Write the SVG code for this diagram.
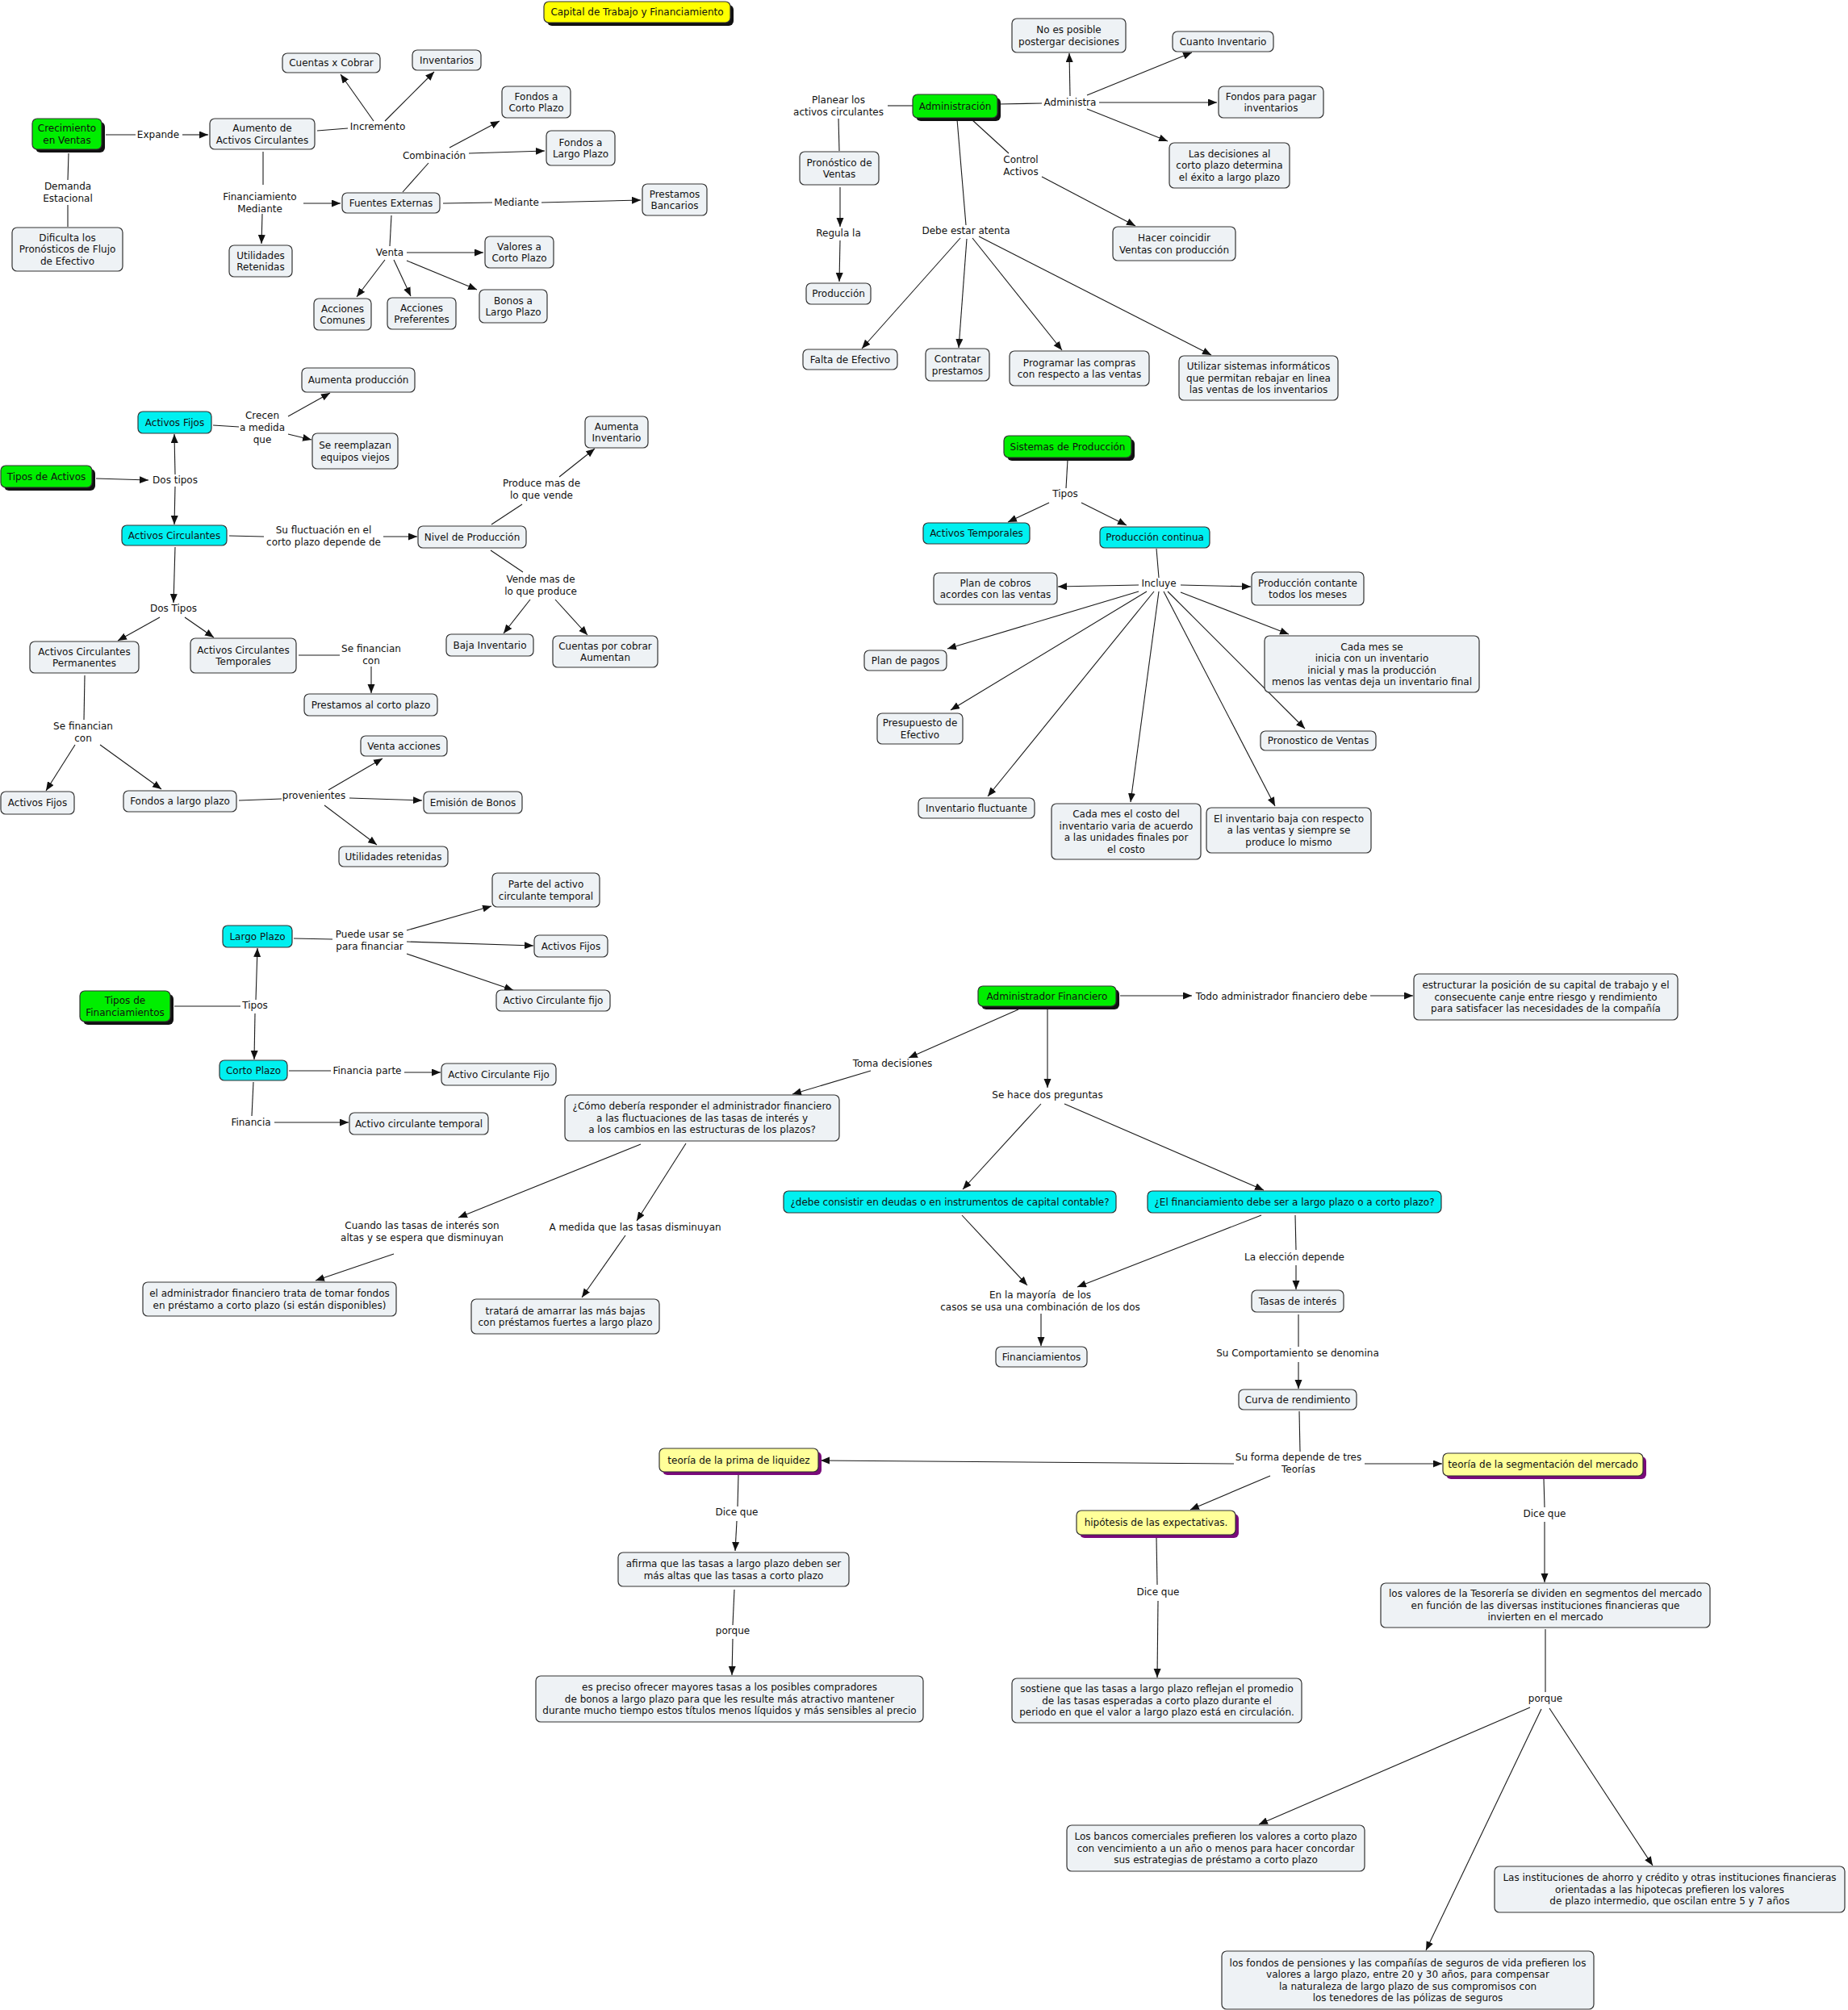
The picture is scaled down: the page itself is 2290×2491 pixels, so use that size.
<svg xmlns="http://www.w3.org/2000/svg" width="2290" height="2491" viewBox="0 0 2290 2491">
<defs>
<marker id="ah" markerWidth="12" markerHeight="10" refX="11" refY="4.5" orient="auto" markerUnits="userSpaceOnUse"><path d="M0,0 L11,4.5 L0,9 z" fill="#111"/></marker>
<style>
text{font-family:"DejaVu Sans",Verdana,sans-serif;font-size:12px;fill:#111;text-anchor:middle}
.n{fill:#eef2f5;stroke:#333;stroke-width:1.2}
.g{fill:#00ee00;stroke:#333;stroke-width:1.2}
.c{fill:#00f0f0;stroke:#333;stroke-width:1.2}
.y{fill:#ffff00;stroke:#333;stroke-width:1.2}
.t{fill:#ffff99;stroke:#333;stroke-width:1.2}
.sk{fill:#111}
.sp{fill:#7a0a7a}
#connectors line{stroke:#1a1a1a;stroke-width:1.1;fill:none}
#connectors line.a{marker-end:url(#ah)}
</style>
</defs>
<rect width="2290" height="2491" fill="#fff"/>

<g id="connectors">
<line x1="131" y1="167" x2="168" y2="167"/>
<line class="a" x1="226" y1="167" x2="258" y2="167"/>
<line x1="393" y1="162" x2="431" y2="159"/>
<line class="a" x1="463" y1="150" x2="422" y2="92"/>
<line class="a" x1="477" y1="150" x2="538" y2="89"/>
<line x1="326" y1="188" x2="326" y2="229"/>
<line class="a" x1="376" y1="252" x2="422" y2="252"/>
<line class="a" x1="325" y1="265" x2="324" y2="302"/>
<line x1="499" y1="238" x2="531" y2="202"/>
<line class="a" x1="557" y1="183" x2="619" y2="150"/>
<line class="a" x1="581" y1="190" x2="675" y2="187"/>
<line x1="549" y1="252" x2="610" y2="251"/>
<line class="a" x1="671" y1="251" x2="794" y2="248"/>
<line x1="485" y1="267" x2="483" y2="305"/>
<line class="a" x1="504" y1="313" x2="599" y2="313"/>
<line class="a" x1="477" y1="322" x2="442" y2="368"/>
<line class="a" x1="488" y1="322" x2="509" y2="367"/>
<line class="a" x1="504" y1="323" x2="591" y2="359"/>
<line x1="85" y1="190" x2="84" y2="223"/>
<line x1="84" y1="254" x2="84" y2="281"/>

<line x1="1131" y1="131" x2="1100" y2="131"/>
<line x1="1039" y1="147" x2="1040" y2="187"/>
<line class="a" x1="1041" y1="232" x2="1041" y2="281"/>
<line class="a" x1="1041" y1="298" x2="1040" y2="349"/>
<line x1="1238" y1="129" x2="1291" y2="128"/>
<line class="a" x1="1326" y1="119" x2="1325" y2="66"/>
<line class="a" x1="1347" y1="118" x2="1477" y2="65"/>
<line class="a" x1="1362" y1="127" x2="1508" y2="127"/>
<line class="a" x1="1347" y1="135" x2="1447" y2="175"/>
<line x1="1204" y1="148" x2="1250" y2="190"/>
<line class="a" x1="1291" y1="219" x2="1407" y2="280"/>
<line x1="1186" y1="148" x2="1197" y2="279"/>
<line class="a" x1="1190" y1="295" x2="1068" y2="432"/>
<line class="a" x1="1198" y1="296" x2="1188" y2="431"/>
<line class="a" x1="1205" y1="295" x2="1316" y2="434"/>
<line class="a" x1="1213" y1="293" x2="1501" y2="440"/>

<line class="a" x1="119" y1="593" x2="184" y2="595"/>
<line class="a" x1="217" y1="588" x2="216" y2="538"/>
<line class="a" x1="217" y1="603" x2="216" y2="650"/>
<line x1="264" y1="527" x2="296" y2="529"/>
<line class="a" x1="357" y1="516" x2="409" y2="487"/>
<line class="a" x1="357" y1="538" x2="386" y2="545"/>
<line x1="284" y1="664" x2="327" y2="665"/>
<line class="a" x1="475" y1="665" x2="517" y2="665"/>
<line x1="609" y1="650" x2="647" y2="625"/>
<line class="a" x1="693" y1="591" x2="737" y2="556"/>
<line x1="608" y1="682" x2="648" y2="709"/>
<line class="a" x1="657" y1="743" x2="624" y2="785"/>
<line class="a" x1="688" y1="743" x2="728" y2="787"/>
<line class="a" x1="217" y1="678" x2="215" y2="747"/>
<line class="a" x1="198" y1="765" x2="146" y2="794"/>
<line class="a" x1="229" y1="765" x2="265" y2="790"/>
<line x1="370" y1="812" x2="421" y2="812"/>
<line class="a" x1="460" y1="826" x2="460" y2="859"/>
<line x1="105" y1="837" x2="104" y2="892"/>
<line class="a" x1="93" y1="923" x2="57" y2="980"/>
<line class="a" x1="124" y1="923" x2="200" y2="978"/>
<line x1="296" y1="992" x2="349" y2="990"/>
<line class="a" x1="407" y1="979" x2="474" y2="940"/>
<line class="a" x1="433" y1="989" x2="523" y2="992"/>
<line class="a" x1="402" y1="998" x2="467" y2="1047"/>

<line x1="1323" y1="570" x2="1321" y2="605"/>
<line class="a" x1="1300" y1="623" x2="1249" y2="647"/>
<line class="a" x1="1340" y1="623" x2="1396" y2="651"/>
<line x1="1433" y1="680" x2="1436" y2="716"/>
<line class="a" x1="1411" y1="725" x2="1311" y2="727"/>
<line class="a" x1="1463" y1="725" x2="1550" y2="727"/>
<line class="a" x1="1411" y1="733" x2="1174" y2="804"/>
<line class="a" x1="1421" y1="733" x2="1178" y2="880"/>
<line class="a" x1="1430" y1="733" x2="1224" y2="987"/>
<line class="a" x1="1436" y1="733" x2="1401" y2="994"/>
<line class="a" x1="1442" y1="733" x2="1580" y2="999"/>
<line class="a" x1="1447" y1="733" x2="1617" y2="903"/>
<line class="a" x1="1463" y1="734" x2="1597" y2="786"/>

<line x1="216" y1="1247" x2="298" y2="1247"/>
<line class="a" x1="317" y1="1239" x2="319" y2="1175"/>
<line class="a" x1="316" y1="1256" x2="315" y2="1313"/>
<line x1="364" y1="1163" x2="412" y2="1164"/>
<line class="a" x1="504" y1="1153" x2="609" y2="1123"/>
<line class="a" x1="504" y1="1167" x2="661" y2="1172"/>
<line class="a" x1="504" y1="1182" x2="636" y2="1227"/>
<line x1="358" y1="1327" x2="410" y2="1327"/>
<line class="a" x1="501" y1="1329" x2="546" y2="1329"/>
<line x1="314" y1="1341" x2="312" y2="1383"/>
<line class="a" x1="340" y1="1391" x2="432" y2="1391"/>

<line class="a" x1="1388" y1="1234" x2="1477" y2="1234"/>
<line class="a" x1="1698" y1="1234" x2="1751" y2="1234"/>
<line class="a" x1="1262" y1="1251" x2="1126" y2="1311"/>
<line class="a" x1="1079" y1="1327" x2="982" y2="1356"/>
<line class="a" x1="1298" y1="1250" x2="1298" y2="1348"/>
<line class="a" x1="1290" y1="1368" x2="1193" y2="1474"/>
<line class="a" x1="1319" y1="1368" x2="1566" y2="1475"/>
<line class="a" x1="794" y1="1418" x2="568" y2="1509"/>
<line class="a" x1="850" y1="1417" x2="789" y2="1513"/>
<line class="a" x1="488" y1="1554" x2="391" y2="1587"/>
<line class="a" x1="775" y1="1531" x2="721" y2="1608"/>
<line class="a" x1="1192" y1="1506" x2="1273" y2="1593"/>
<line class="a" x1="1563" y1="1506" x2="1335" y2="1595"/>
<line class="a" x1="1290" y1="1628" x2="1290" y2="1668"/>
<line x1="1605" y1="1506" x2="1606" y2="1549"/>
<line class="a" x1="1606" y1="1568" x2="1606" y2="1598"/>
<line x1="1609" y1="1629" x2="1609" y2="1669"/>
<line class="a" x1="1609" y1="1688" x2="1609" y2="1721"/>

<line x1="1610" y1="1749" x2="1611" y2="1799"/>
<line class="a" x1="1529" y1="1814" x2="1017" y2="1810"/>
<line class="a" x1="1574" y1="1829" x2="1475" y2="1871"/>
<line class="a" x1="1691" y1="1814" x2="1787" y2="1814"/>
<line x1="915" y1="1828" x2="914" y2="1867"/>
<line class="a" x1="913" y1="1885" x2="911" y2="1922"/>
<line x1="910" y1="1970" x2="908" y2="2014"/>
<line class="a" x1="908" y1="2031" x2="907" y2="2076"/>
<line x1="1433" y1="1906" x2="1434" y2="1964"/>
<line class="a" x1="1435" y1="1984" x2="1434" y2="2079"/>
<line x1="1913" y1="1833" x2="1914" y2="1868"/>
<line class="a" x1="1914" y1="1886" x2="1914" y2="1961"/>
<line x1="1915" y1="2019" x2="1915" y2="2097"/>
<line class="a" x1="1896" y1="2116" x2="1560" y2="2261"/>
<line class="a" x1="1910" y1="2118" x2="1767" y2="2417"/>
<line class="a" x1="1920" y1="2117" x2="2048" y2="2312"/>
</g>

<g id="labels">
<g id="l-expande"><text x="196" y="171.3">Expande</text></g>
<g id="l-incremento"><text x="468" y="161.3">Incremento</text></g>
<g id="l-combinacion"><text x="538" y="197.3">Combinación</text></g>
<g id="l-finmed"><text x="322" y="248.3">Financiamiento</text><text x="322" y="262.8">Mediante</text></g>
<g id="l-mediante"><text x="640" y="255.3">Mediante</text></g>
<g id="l-venta"><text x="483" y="317.3">Venta</text></g>
<g id="l-demanda"><text x="84" y="235.3">Demanda</text><text x="84" y="250">Estacional</text></g>

<g id="l-planear"><text x="1039" y="128.3">Planear los</text><text x="1039" y="142.8">activos circulantes</text></g>
<g id="l-administra"><text x="1326" y="131.3">Administra</text></g>
<g id="l-control"><text x="1265" y="202.3">Control</text><text x="1265" y="216.8">Activos</text></g>
<g id="l-regula"><text x="1039" y="293.3">Regula la</text></g>
<g id="l-debe"><text x="1197" y="290.3">Debe estar atenta</text></g>

<g id="l-crecen"><text x="325" y="519.3">Crecen</text><text x="325" y="534">a medida</text><text x="325" y="548.7">que</text></g>
<g id="l-dostipos"><text x="217" y="599.3">Dos tipos</text></g>
<g id="l-fluct"><text x="401" y="661.3">Su fluctuación en el</text><text x="401" y="676">corto plazo depende de</text></g>
<g id="l-produce"><text x="671" y="603.3">Produce mas de</text><text x="671" y="618">lo que vende</text></g>
<g id="l-vende"><text x="670" y="722.3">Vende mas de</text><text x="670" y="737">lo que produce</text></g>
<g id="l-dostipos2"><text x="215" y="758.3">Dos Tipos</text></g>
<g id="l-sefin1"><text x="460" y="808.3">Se financian</text><text x="460" y="823">con</text></g>
<g id="l-sefin2"><text x="103" y="904.3">Se financian</text><text x="103" y="919">con</text></g>
<g id="l-provenientes"><text x="389" y="990.3">provenientes</text></g>

<g id="l-tipos"><text x="1320" y="616.3">Tipos</text></g>
<g id="l-incluye"><text x="1436" y="727.3">Incluye</text></g>

<g id="l-tipos2"><text x="316" y="1250.3">Tipos</text></g>
<g id="l-puede"><text x="458" y="1162.3">Puede usar se</text><text x="458" y="1177">para financiar</text></g>
<g id="l-finparte"><text x="455" y="1331.3">Financia parte</text></g>
<g id="l-financia"><text x="311" y="1395.3">Financia</text></g>

<g id="l-todo"><text x="1588" y="1239.3">Todo administrador financiero debe</text></g>
<g id="l-toma"><text x="1106" y="1322.3">Toma decisiones</text></g>
<g id="l-sehace"><text x="1298" y="1361.3">Se hace dos preguntas</text></g>
<g id="l-cuando"><text x="523" y="1523.3">Cuando las tasas de interés son</text><text x="523" y="1538">altas y se espera que disminuyan</text></g>
<g id="l-amedida"><text x="787" y="1525.3">A medida que las tasas disminuyan</text></g>
<g id="l-mayoria"><text x="1289" y="1609.3">En la mayoría &#160;de los</text><text x="1289" y="1624">casos se usa una combinación de los dos</text></g>
<g id="l-eleccion"><text x="1604" y="1562.3">La elección depende</text></g>
<g id="l-comport"><text x="1608" y="1681.3">Su Comportamiento se denomina</text></g>

<g id="l-suforma"><text x="1609" y="1810.3">Su forma depende de tres</text><text x="1609" y="1825">Teorías</text></g>
<g id="l-dice1"><text x="913" y="1878.3">Dice que</text></g>
<g id="l-porque1"><text x="908" y="2025.3">porque</text></g>
<g id="l-dice2"><text x="1435" y="1977.3">Dice que</text></g>
<g id="l-dice3"><text x="1914" y="1880.3">Dice que</text></g>
<g id="l-porque2"><text x="1915" y="2109.3">porque</text></g>
</g>

<g id="title"><rect class="sk" x="678" y="6" width="231" height="26" rx="6"/><rect class="y" x="674" y="2" width="231" height="26" rx="6"/><text x="789.5" y="19.3">Capital de Trabajo y Financiamiento</text></g>

<g id="n-crecimiento"><rect class="sk" x="44" y="151" width="86" height="38" rx="6"/><rect class="g" x="40" y="147" width="86" height="38" rx="6"/><text x="83" y="163.1">Crecimiento</text><text x="83" y="177.6">en Ventas</text></g>
<g id="n-aumento"><rect class="n" x="260" y="147" width="130" height="38" rx="6"/><text x="325" y="163.1">Aumento de</text><text x="325" y="177.6">Activos Circulantes</text></g>
<g id="n-cxc"><rect class="n" x="350" y="66" width="121" height="24" rx="6"/><text x="410.5" y="82.3">Cuentas x Cobrar</text></g>
<g id="n-inventarios"><rect class="n" x="511" y="62" width="85" height="25" rx="6"/><text x="553.5" y="78.8">Inventarios</text></g>
<g id="n-fcp"><rect class="n" x="622" y="107" width="85" height="39" rx="6"/><text x="664.5" y="123.6">Fondos a</text><text x="664.5" y="138.1">Corto Plazo</text></g>
<g id="n-flp"><rect class="n" x="677" y="162" width="85" height="43" rx="6"/><text x="719.5" y="180.6">Fondos a</text><text x="719.5" y="195.1">Largo Plazo</text></g>
<g id="n-fuentes"><rect class="n" x="424" y="239" width="121" height="25" rx="6"/><text x="484.5" y="255.8">Fuentes Externas</text></g>
<g id="n-prestamos"><rect class="n" x="796" y="228" width="80" height="39" rx="6"/><text x="836" y="244.6">Prestamos</text><text x="836" y="259.1">Bancarios</text></g>
<g id="n-utilidades"><rect class="n" x="284" y="304" width="78" height="39" rx="6"/><text x="323" y="320.6">Utilidades</text><text x="323" y="335.1">Retenidas</text></g>
<g id="n-valores"><rect class="n" x="601" y="293" width="85" height="39" rx="6"/><text x="643.5" y="309.6">Valores a</text><text x="643.5" y="324.1">Corto Plazo</text></g>
<g id="n-acomunes"><rect class="n" x="389" y="370" width="71" height="39" rx="6"/><text x="424.5" y="386.6">Acciones</text><text x="424.5" y="401.1">Comunes</text></g>
<g id="n-apref"><rect class="n" x="480" y="369" width="85" height="39" rx="6"/><text x="522.5" y="385.6">Acciones</text><text x="522.5" y="400.1">Preferentes</text></g>
<g id="n-bonos"><rect class="n" x="594" y="359" width="84" height="41" rx="6"/><text x="636" y="376.6">Bonos a</text><text x="636" y="391.1">Largo Plazo</text></g>
<g id="n-dificulta"><rect class="n" x="15" y="282" width="137" height="54" rx="6"/><text x="83.5" y="298.8">Dificulta los</text><text x="83.5" y="313.3">Pronósticos de Flujo</text><text x="83.5" y="327.8">de Efectivo</text></g>

<g id="n-admin"><rect class="sk" x="1135" y="121" width="105" height="29" rx="6"/><rect class="g" x="1131" y="117" width="105" height="29" rx="6"/><text x="1183.5" y="135.8">Administración</text></g>
<g id="n-noes"><rect class="n" x="1254" y="23" width="141" height="42" rx="6"/><text x="1324.5" y="41.1">No es posible</text><text x="1324.5" y="55.6">postergar decisiones</text></g>
<g id="n-cuanto"><rect class="n" x="1453" y="39" width="125" height="25" rx="6"/><text x="1515.5" y="55.8">Cuanto Inventario</text></g>
<g id="n-fondospagar"><rect class="n" x="1510" y="107" width="130" height="39" rx="6"/><text x="1575" y="123.6">Fondos para pagar</text><text x="1575" y="138.1">inventarios</text></g>
<g id="n-decisiones"><rect class="n" x="1449" y="177" width="149" height="56" rx="6"/><text x="1523.5" y="194.8">Las decisiones al</text><text x="1523.5" y="209.3">corto plazo determina</text><text x="1523.5" y="223.8">el éxito a largo plazo</text></g>
<g id="n-hacer"><rect class="n" x="1379" y="281" width="152" height="42" rx="6"/><text x="1455" y="299.1">Hacer coincidir</text><text x="1455" y="313.6">Ventas con producción</text></g>
<g id="n-pronostico"><rect class="n" x="991" y="188" width="98" height="41" rx="6"/><text x="1040" y="205.6">Pronóstico de</text><text x="1040" y="220.1">Ventas</text></g>
<g id="n-produccion"><rect class="n" x="999" y="351" width="80" height="26" rx="6"/><text x="1039" y="368.3">Producción</text></g>
<g id="n-falta"><rect class="n" x="995" y="433" width="117" height="25" rx="6"/><text x="1053.5" y="449.8">Falta de Efectivo</text></g>
<g id="n-contratar"><rect class="n" x="1147" y="432" width="79" height="40" rx="6"/><text x="1186.5" y="449.1">Contratar</text><text x="1186.5" y="463.6">prestamos</text></g>
<g id="n-programar"><rect class="n" x="1251" y="435" width="173" height="43" rx="6"/><text x="1337.5" y="453.6">Programar las compras</text><text x="1337.5" y="468.1">con respecto a las ventas</text></g>
<g id="n-utilizar"><rect class="n" x="1461" y="441" width="197" height="55" rx="6"/><text x="1559.5" y="458.3">Utilizar sistemas informáticos</text><text x="1559.5" y="472.8">que permitan rebajar en linea</text><text x="1559.5" y="487.3">las ventas de los inventarios</text></g>

<g id="n-tiposact"><rect class="sk" x="5" y="581" width="113" height="27" rx="6"/><rect class="g" x="1" y="577" width="113" height="27" rx="6"/><text x="57.5" y="594.8">Tipos de Activos</text></g>
<g id="n-afijos"><rect class="c" x="171" y="510" width="91" height="27" rx="6"/><text x="216.5" y="527.8">Activos Fijos</text></g>
<g id="n-aumprod"><rect class="n" x="374" y="456" width="140" height="30" rx="6"/><text x="444" y="475.3">Aumenta producción</text></g>
<g id="n-reemplazan"><rect class="n" x="387" y="537" width="106" height="44" rx="6"/><text x="440" y="556.1">Se reemplazan</text><text x="440" y="570.6">equipos viejos</text></g>
<g id="n-acirc"><rect class="c" x="151" y="651" width="130" height="25" rx="6"/><text x="216" y="667.8">Activos Circulantes</text></g>
<g id="n-nivel"><rect class="n" x="518" y="652" width="134" height="27" rx="6"/><text x="585" y="669.8">Nivel de Producción</text></g>
<g id="n-auminv"><rect class="n" x="725" y="516" width="78" height="39" rx="6"/><text x="764" y="532.6">Aumenta</text><text x="764" y="547.1">Inventario</text></g>
<g id="n-bajainv"><rect class="n" x="553" y="786" width="108" height="27" rx="6"/><text x="607" y="803.8">Baja Inventario</text></g>
<g id="n-cxcaum"><rect class="n" x="685" y="788" width="130" height="39" rx="6"/><text x="750" y="804.6">Cuentas por cobrar</text><text x="750" y="819.1">Aumentan</text></g>
<g id="n-acperm"><rect class="n" x="37" y="795" width="135" height="39" rx="6"/><text x="104.5" y="811.6">Activos Circulantes</text><text x="104.5" y="826.1">Permanentes</text></g>
<g id="n-actemp"><rect class="n" x="236" y="791" width="131" height="43" rx="6"/><text x="301.5" y="809.6">Activos Circulantes</text><text x="301.5" y="824.1">Temporales</text></g>
<g id="n-prestcp"><rect class="n" x="377" y="860" width="165" height="27" rx="6"/><text x="459.5" y="877.8">Prestamos al corto plazo</text></g>
<g id="n-afijos2"><rect class="n" x="1" y="981" width="91" height="28" rx="6"/><text x="46.5" y="999.3">Activos Fijos</text></g>
<g id="n-fondoslp"><rect class="n" x="153" y="980" width="140" height="26" rx="6"/><text x="223" y="997.3">Fondos a largo plazo</text></g>
<g id="n-ventaacc"><rect class="n" x="447" y="912" width="107" height="25" rx="6"/><text x="500.5" y="928.8">Venta acciones</text></g>
<g id="n-emision"><rect class="n" x="525" y="981" width="122" height="27" rx="6"/><text x="586" y="998.8">Emisión de Bonos</text></g>
<g id="n-utilret"><rect class="n" x="420" y="1049" width="135" height="25" rx="6"/><text x="487.5" y="1065.8">Utilidades retenidas</text></g>

<g id="n-sistemas"><rect class="sk" x="1248" y="544" width="158" height="27" rx="6"/><rect class="g" x="1244" y="540" width="158" height="27" rx="6"/><text x="1323" y="557.8">Sistemas de Producción</text></g>
<g id="n-actemporales"><rect class="c" x="1144" y="648" width="132" height="26" rx="6"/><text x="1210" y="665.3">Activos Temporales</text></g>
<g id="n-prodcont"><rect class="c" x="1363" y="653" width="136" height="26" rx="6"/><text x="1431" y="670.3">Producción continua</text></g>
<g id="n-plancobros"><rect class="n" x="1157" y="710" width="153" height="39" rx="6"/><text x="1233.5" y="726.6">Plan de cobros</text><text x="1233.5" y="741.1">acordes con las ventas</text></g>
<g id="n-prodcontante"><rect class="n" x="1551" y="709" width="139" height="41" rx="6"/><text x="1620.5" y="726.6">Producción contante</text><text x="1620.5" y="741.1">todos los meses</text></g>
<g id="n-planpagos"><rect class="n" x="1071" y="806" width="102" height="25" rx="6"/><text x="1122" y="822.8">Plan de pagos</text></g>
<g id="n-cadames1"><rect class="n" x="1567" y="788" width="266" height="70" rx="6"/><text x="1700" y="805.6">Cada mes se</text><text x="1700" y="820.1">inicia con un inventario</text><text x="1700" y="834.6">inicial y mas la producción</text><text x="1700" y="849.1">menos las ventas deja un inventario final</text></g>
<g id="n-presupuesto"><rect class="n" x="1087" y="884" width="106" height="38" rx="6"/><text x="1140" y="900.1">Presupuesto de</text><text x="1140" y="914.6">Efectivo</text></g>
<g id="n-pronventas"><rect class="n" x="1562" y="906" width="143" height="24" rx="6"/><text x="1633.5" y="922.3">Pronostico de Ventas</text></g>
<g id="n-invfluct"><rect class="n" x="1138" y="989" width="144" height="25" rx="6"/><text x="1210" y="1005.8">Inventario fluctuante</text></g>
<g id="n-cadames2"><rect class="n" x="1303" y="996" width="185" height="69" rx="6"/><text x="1395.5" y="1013.1">Cada mes el costo del</text><text x="1395.5" y="1027.6">inventario varia de acuerdo</text><text x="1395.5" y="1042.1">a las unidades finales por</text><text x="1395.5" y="1056.6">el costo</text></g>
<g id="n-invbaja"><rect class="n" x="1495" y="1001" width="204" height="56" rx="6"/><text x="1597" y="1018.8">El inventario baja con respecto</text><text x="1597" y="1033.3">a las ventas y siempre se</text><text x="1597" y="1047.8">produce lo mismo</text></g>

<g id="n-tiposfin"><rect class="sk" x="103" y="1232" width="112" height="38" rx="6"/><rect class="g" x="99" y="1228" width="112" height="38" rx="6"/><text x="155" y="1244.1">Tipos de</text><text x="155" y="1258.6">Financiamientos</text></g>
<g id="n-largo"><rect class="c" x="276" y="1147" width="86" height="27" rx="6"/><text x="319" y="1164.8">Largo Plazo</text></g>
<g id="n-parteact"><rect class="n" x="610" y="1082" width="133" height="42" rx="6"/><text x="676.5" y="1100.1">Parte del activo</text><text x="676.5" y="1114.6">circulante temporal</text></g>
<g id="n-afijos3"><rect class="n" x="662" y="1159" width="91" height="27" rx="6"/><text x="707.5" y="1176.8">Activos Fijos</text></g>
<g id="n-acfijo1"><rect class="n" x="615" y="1227" width="141" height="26" rx="6"/><text x="685.5" y="1244.3">Activo Circulante fijo</text></g>
<g id="n-corto"><rect class="c" x="272" y="1314" width="84" height="25" rx="6"/><text x="314" y="1330.8">Corto Plazo</text></g>
<g id="n-acfijo2"><rect class="n" x="547" y="1318" width="142" height="27" rx="6"/><text x="618" y="1335.8">Activo Circulante Fijo</text></g>
<g id="n-actempo"><rect class="n" x="433" y="1379" width="172" height="27" rx="6"/><text x="519" y="1396.8">Activo circulante temporal</text></g>

<g id="n-adminfin"><rect class="sk" x="1216" y="1226" width="171" height="25" rx="6"/><rect class="g" x="1212" y="1222" width="171" height="25" rx="6"/><text x="1297.5" y="1238.8">Administrador Financiero</text></g>
<g id="n-estructurar"><rect class="n" x="1752" y="1207" width="327" height="57" rx="6"/><text x="1915.5" y="1225.3">estructurar la posición de su capital de trabajo y el</text><text x="1915.5" y="1239.8">consecuente canje entre riesgo y rendimiento</text><text x="1915.5" y="1254.3">para satisfacer las necesidades de la compañía</text></g>
<g id="n-como"><rect class="n" x="700" y="1357" width="340" height="57" rx="6"/><text x="870" y="1375.3">¿Cómo debería responder el administrador financiero</text><text x="870" y="1389.8">a las fluctuaciones de las tasas de interés y</text><text x="870" y="1404.3">a los cambios en las estructuras de los plazos?</text></g>
<g id="n-debe"><rect class="c" x="971" y="1476" width="412" height="27" rx="6"/><text x="1177" y="1493.8">¿debe consistir en deudas o en instrumentos de capital contable?</text></g>
<g id="n-elfin"><rect class="c" x="1422" y="1476" width="364" height="27" rx="6"/><text x="1604" y="1493.8">¿El financiamiento debe ser a largo plazo o a corto plazo?</text></g>
<g id="n-eladmin"><rect class="n" x="177" y="1589" width="314" height="42" rx="6"/><text x="334" y="1607.1">el administrador financiero trata de tomar fondos</text><text x="334" y="1621.6">en préstamo a corto plazo (si están disponibles)</text></g>
<g id="n-tratara"><rect class="n" x="584" y="1610" width="233" height="43" rx="6"/><text x="700.5" y="1628.6">tratará de amarrar las más bajas</text><text x="700.5" y="1643.1">con préstamos fuertes a largo plazo</text></g>
<g id="n-financiamientos"><rect class="n" x="1234" y="1669" width="113" height="25" rx="6"/><text x="1290.5" y="1685.8">Financiamientos</text></g>
<g id="n-tasas"><rect class="n" x="1551" y="1599" width="114" height="27" rx="6"/><text x="1608" y="1616.8">Tasas de interés</text></g>
<g id="n-curva"><rect class="n" x="1535" y="1722" width="146" height="25" rx="6"/><text x="1608" y="1738.8">Curva de rendimiento</text></g>

<g id="n-prima"><rect class="sp" x="821" y="1799" width="197" height="29" rx="6"/><rect class="t" x="817" y="1795" width="197" height="29" rx="6"/><text x="915.5" y="1813.8">teoría de la prima de liquidez</text></g>
<g id="n-hipotesis"><rect class="sp" x="1338" y="1876" width="197" height="30" rx="6"/><rect class="t" x="1334" y="1872" width="197" height="30" rx="6"/><text x="1432.5" y="1891.3">hipótesis de las expectativas.</text></g>
<g id="n-segmentacion"><rect class="sp" x="1792" y="1805" width="248" height="28" rx="6"/><rect class="t" x="1788" y="1801" width="248" height="28" rx="6"/><text x="1912" y="1819.3">teoría de la segmentación del mercado</text></g>
<g id="n-afirma"><rect class="n" x="766" y="1924" width="286" height="42" rx="6"/><text x="909" y="1942.1">afirma que las tasas a largo plazo deben ser</text><text x="909" y="1956.6">más altas que las tasas a corto plazo</text></g>
<g id="n-preciso"><rect class="n" x="664" y="2077" width="480" height="57" rx="6"/><text x="904" y="2095.3">es preciso ofrecer mayores tasas a los posibles compradores</text><text x="904" y="2109.8">de bonos a largo plazo para que les resulte más atractivo mantener</text><text x="904" y="2124.3">durante mucho tiempo estos títulos menos líquidos y más sensibles al precio</text></g>
<g id="n-sostiene"><rect class="n" x="1254" y="2080" width="359" height="55" rx="6"/><text x="1433.5" y="2097.3">sostiene que las tasas a largo plazo reflejan el promedio</text><text x="1433.5" y="2111.8">de las tasas esperadas a corto plazo durante el</text><text x="1433.5" y="2126.3">periodo en que el valor a largo plazo está en circulación.</text></g>
<g id="n-losvalores"><rect class="n" x="1711" y="1962" width="408" height="55" rx="6"/><text x="1915" y="1979.3">los valores de la Tesorería se dividen en segmentos del mercado</text><text x="1915" y="1993.8">en función de las diversas instituciones financieras que</text><text x="1915" y="2008.3">invierten en el mercado</text></g>
<g id="n-bancos"><rect class="n" x="1322" y="2262" width="369" height="57" rx="6"/><text x="1506.5" y="2280.3">Los bancos comerciales prefieren los valores a corto plazo</text><text x="1506.5" y="2294.8">con vencimiento a un año o menos para hacer concordar</text><text x="1506.5" y="2309.3">sus estrategias de préstamo a corto plazo</text></g>
<g id="n-fondospens"><rect class="n" x="1514" y="2418" width="461" height="72" rx="6"/><text x="1744.5" y="2436.6">los fondos de pensiones y las compañías de seguros de vida prefieren los</text><text x="1744.5" y="2451.1">valores a largo plazo, entre 20 y 30 años, para compensar</text><text x="1744.5" y="2465.6">la naturaleza de largo plazo de sus compromisos con</text><text x="1744.5" y="2480.1">los tenedores de las pólizas de seguros</text></g>
<g id="n-instituciones"><rect class="n" x="1852" y="2313" width="434" height="57" rx="6"/><text x="2069" y="2331.3">Las instituciones de ahorro y crédito y otras instituciones financieras</text><text x="2069" y="2345.8">orientadas a las hipotecas prefieren los valores</text><text x="2069" y="2360.3">de plazo intermedio, que oscilan entre 5 y 7 años</text></g>
</svg>
